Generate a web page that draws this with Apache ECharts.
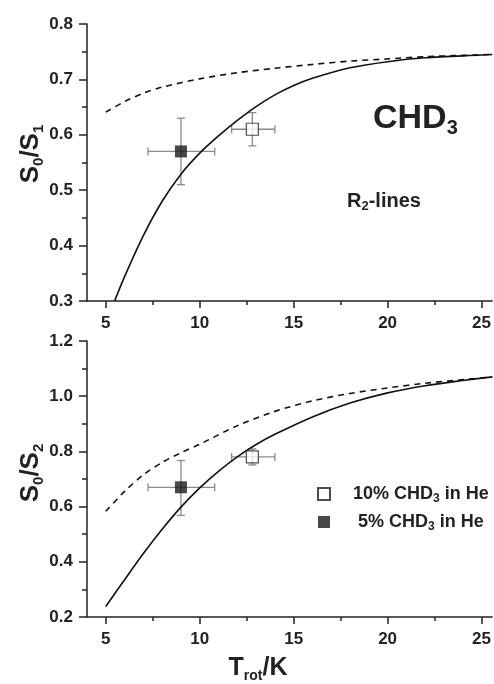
<!DOCTYPE html>
<html>
<head>
<meta charset="utf-8">
<script src="https://cdn.jsdelivr.net/npm/echarts@6/dist/echarts.min.js"></script>
<style>
    html, body { margin: 0; padding: 0; background: #fff; }
    #chart { width: 494px; height: 684px; }
</style>
</head>
<body>
<div id="chart"></div>
<script>
// x ticks
var xMajor = [5, 10, 15, 20, 25];
var xMinor = [7.5, 12.5, 17.5, 22.5];

// top panel: S0/S1, curves
var topSolidX = [5.47, 6, 7, 8, 9, 10, 11, 12, 13, 14, 15, 16, 18, 20, 22, 25, 25.57];
var topSolidY = [0.30, 0.344, 0.418, 0.48, 0.529, 0.567, 0.598, 0.626, 0.651, 0.672, 0.689, 0.702, 0.721, 0.732, 0.739, 0.744, 0.745];
var topDashX = [5, 6, 7, 8, 10, 12, 14, 16, 18, 20, 22, 25.57];
var topDashY = [0.641, 0.66, 0.675, 0.686, 0.701, 0.712, 0.72, 0.727, 0.733, 0.737, 0.741, 0.745];

// bottom panel: S0/S2, curves
var botSolidX = [5, 6, 7, 8, 9, 10, 11, 12, 13, 14, 16, 18, 20, 22, 24, 25.57];
var botSolidY = [0.238, 0.335, 0.43, 0.518, 0.598, 0.668, 0.728, 0.78, 0.825, 0.862, 0.925, 0.975, 1.012, 1.038, 1.057, 1.07];
var botDashX = [5, 6, 7, 8, 9, 10, 12, 14, 16, 18, 20, 22, 24, 25.57];
var botDashY = [0.583, 0.655, 0.715, 0.76, 0.795, 0.826, 0.893, 0.945, 0.983, 1.01, 1.03, 1.047, 1.06, 1.07];

// measured points: [x, y, xlo, xhi, ylo, yhi]
var topOpen = [[12.8, 0.61, 11.7, 14.0, 0.58, 0.64]];
var topFilled = [[9, 0.57, 7.25, 10.8, 0.51, 0.63]];
var botOpen = [[12.8, 0.78, 11.7, 14.0, 0.751, 0.809]];
var botFilled = [[9, 0.67, 7.25, 10.8, 0.568, 0.767]];

var nameOpen = '10% CHD3 in He';
var nameFilled = '5% CHD3 in He';

function zip(xs, ys) {
    var out = [];
    for (var i = 0; i < xs.length; i++) out.push([xs[i], ys[i]]);
    return out;
}

var font = 'Liberation Sans, Arial, sans-serif';
var axisColor = '#222';

function xAxes(gridIndex, showLabel) {
    return [{
        type: 'value', gridIndex: gridIndex, min: 4, max: 25.57, position: 'bottom',
        axisLine: {show: true, lineStyle: {color: axisColor, width: 1.5}},
        axisTick: {show: true, customValues: xMajor, length: 7, inside: false, lineStyle: {color: axisColor, width: 1.5}},
        axisLabel: {show: showLabel, customValues: xMajor, margin: 14, color: '#222', fontSize: 17, fontWeight: 'bold', fontFamily: font},
        splitLine: {show: false}
    }, {
        // minor ticks only
        type: 'value', gridIndex: gridIndex, min: 4, max: 25.57, position: 'bottom', offset: 0,
        axisLine: {show: false},
        axisTick: {show: true, customValues: xMinor, length: 4, lineStyle: {color: axisColor, width: 1.5}},
        axisLabel: {show: false, customValues: xMinor},
        splitLine: {show: false}
    }];
}

function yAxis(gridIndex, min, max, interval) {
    return {
        type: 'value', gridIndex: gridIndex, min: min, max: max, interval: interval,
        axisLine: {show: true, lineStyle: {color: axisColor, width: 1.5}},
        axisTick: {show: true, length: 8, lineStyle: {color: axisColor, width: 1.5}},
        minorTick: {show: true, splitNumber: 2, length: 5, lineStyle: {color: axisColor, width: 1.5}},
        axisLabel: {
            margin: 14, color: '#222', fontSize: 17, fontWeight: 'bold', fontFamily: font,
            formatter: function (v) { return v.toFixed(1); }
        },
        splitLine: {show: false}
    };
}

function errorBars(data, xi, yi) {
    return {
        type: 'custom', xAxisIndex: xi, yAxisIndex: yi, z: 2, silent: true,
        encode: {x: 0, y: 1},
        data: data,
        renderItem: function (params, api) {
            var c = api.coord([api.value(0), api.value(1)]);
            var l = api.coord([api.value(2), api.value(1)]);
            var r = api.coord([api.value(3), api.value(1)]);
            var b = api.coord([api.value(0), api.value(4)]);
            var t = api.coord([api.value(0), api.value(5)]);
            var st = {stroke: '#8a8a8a', lineWidth: 1.3};
            var cap = 4;
            return {
                type: 'group',
                children: [
                    {type: 'line', shape: {x1: l[0], y1: l[1], x2: r[0], y2: r[1]}, style: st},
                    {type: 'line', shape: {x1: l[0], y1: l[1] - cap, x2: l[0], y2: l[1] + cap}, style: st},
                    {type: 'line', shape: {x1: r[0], y1: r[1] - cap, x2: r[0], y2: r[1] + cap}, style: st},
                    {type: 'line', shape: {x1: c[0], y1: b[1], x2: c[0], y2: t[1]}, style: st},
                    {type: 'line', shape: {x1: c[0] - cap, y1: b[1], x2: c[0] + cap, y2: b[1]}, style: st},
                    {type: 'line', shape: {x1: c[0] - cap, y1: t[1], x2: c[0] + cap, y2: t[1]}, style: st}
                ]
            };
        }
    };
}

function curve(xs, ys, xi, yi, dashed) {
    return {
        type: 'line', xAxisIndex: xi, yAxisIndex: yi, data: zip(xs, ys),
        symbol: 'none', smooth: 0.3, silent: true, z: 3,
        lineStyle: {color: '#111', width: 1.6, type: dashed ? [6, 5] : 'solid'}
    };
}

function marks(data, name, open, xi, yi) {
    return {
        type: 'scatter', name: name, xAxisIndex: xi, yAxisIndex: yi, z: 4,
        symbol: 'rect', symbolSize: 12,
        data: data.map(function (d) { return [d[0], d[1]]; }),
        itemStyle: open ? {color: '#fff', borderColor: '#222', borderWidth: 1.2} : {color: '#1a1a1a'}
    };
}

var chart = echarts.init(document.getElementById('chart'), null, {renderer: 'canvas'});
chart.setOption({
    animation: false,
    backgroundColor: '#fff',
    grid: [
        {left: 87, right: 0, top: 24, height: 277},
        {left: 87, right: 0, top: 341, height: 276}
    ],
    xAxis: xAxes(0, true).concat(xAxes(1, true)),
    yAxis: [yAxis(0, 0.3, 0.8, 0.1), yAxis(1, 0.2, 1.2, 0.2)],
    legend: {
        data: [nameOpen, nameFilled],
        orient: 'vertical', left: 312, top: 478, itemGap: 6,
        itemWidth: 12, itemHeight: 12, icon: 'rect',
        formatter: function (n) {
            return n === nameOpen ? '10% CHD{s|3} in He' : ' 5% CHD{s|3} in He';
        },
        textStyle: {
            fontSize: 18, fontWeight: 'bold', fontFamily: font, color: '#222', lineHeight: 22, padding: [0, 0, 0, 18],
            rich: {s: {fontSize: 12, fontWeight: 'bold', fontFamily: font, color: '#222', verticalAlign: 'bottom', lineHeight: 12}}
        }
    },
    graphic: [
        {
            type: 'text', left: 373, top: 100,
            style: {
                text: 'CHD{s|3}', fontSize: 34, fontWeight: 'bold', fontFamily: font, fill: '#222', lineHeight: 38,
                rich: {s: {fontSize: 20, fontWeight: 'bold', fontFamily: font, fill: '#222', verticalAlign: 'bottom', lineHeight: 20}}
            }
        },
        {
            type: 'text', left: 347, top: 189,
            style: {
                text: 'R{s|2}-lines', fontSize: 20, fontWeight: 'bold', fontFamily: font, fill: '#222', lineHeight: 24,
                rich: {s: {fontSize: 13, fontWeight: 'bold', fontFamily: font, fill: '#222', verticalAlign: 'bottom', lineHeight: 13}}
            }
        },
        {
            type: 'text', x: 31, y: 154, rotation: Math.PI / 2,
            style: {
                text: 'S{s|0}/S{s|1}', fontSize: 26, fontWeight: 'bold', fontFamily: font, fill: '#222', lineHeight: 30,
                align: 'center', verticalAlign: 'middle',
                rich: {s: {fontSize: 15, fontWeight: 'bold', fontFamily: font, fill: '#222', verticalAlign: 'bottom', lineHeight: 15}}
            }
        },
        {
            type: 'text', x: 31, y: 473, rotation: Math.PI / 2,
            style: {
                text: 'S{s|0}/S{s|2}', fontSize: 26, fontWeight: 'bold', fontFamily: font, fill: '#222', lineHeight: 30,
                align: 'center', verticalAlign: 'middle',
                rich: {s: {fontSize: 15, fontWeight: 'bold', fontFamily: font, fill: '#222', verticalAlign: 'bottom', lineHeight: 15}}
            }
        },
        {
            type: 'text', x: 258, y: 668,
            style: {
                text: 'T{s|rot}/K', fontSize: 25, fontWeight: 'bold', fontFamily: font, fill: '#222', lineHeight: 30,
                align: 'center', verticalAlign: 'middle',
                rich: {s: {fontSize: 14, fontWeight: 'bold', fontFamily: font, fill: '#222', verticalAlign: 'bottom', lineHeight: 14}}
            }
        }
    ],
    series: [
        curve(topDashX, topDashY, 0, 0, true),
        curve(topSolidX, topSolidY, 0, 0, false),
        errorBars(topOpen, 0, 0),
        errorBars(topFilled, 0, 0),
        marks(topOpen, nameOpen, true, 0, 0),
        marks(topFilled, nameFilled, false, 0, 0),
        curve(botDashX, botDashY, 2, 1, true),
        curve(botSolidX, botSolidY, 2, 1, false),
        errorBars(botOpen, 2, 1),
        errorBars(botFilled, 2, 1),
        marks(botOpen, nameOpen, true, 2, 1),
        marks(botFilled, nameFilled, false, 2, 1)
    ]
});
</script>
</body>
</html>
